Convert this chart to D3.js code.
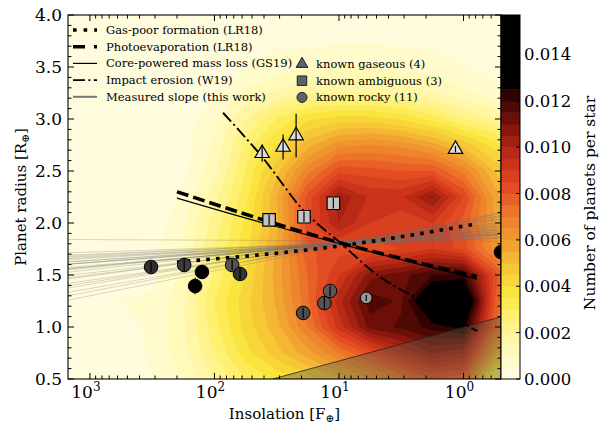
<!DOCTYPE html>
<html>
<head>
<meta charset="utf-8">
<title>Planet radius vs insolation</title>
<script src="https://d3js.org/d3.v7.min.js"></script>
<style>
  body { margin: 0; background: #fff; }
  text { font-family: "DejaVu Serif", serif; fill: #000; }
</style>
</head>
<body>
<div id="chart"></div>
<script>
// occurrence density grid, planets per star in units of 1e-3
// columns: log10 insolation, rows: planet radius (top to bottom)
var gridLogS = [3.25, 3.0, 2.75, 2.5, 2.25, 2.0, 1.75, 1.5, 1.25, 1.0, 0.75, 0.5, 0.25, 0.0, -0.25, -0.5];
var gridR = [4.0, 3.75, 3.5, 3.25, 3.0, 2.75, 2.5, 2.25, 2.0, 1.75, 1.5, 1.25, 1.0, 0.75, 0.5];
var density = [
  [0, 0, 0, 0, 0, 0, 0.1, 0.2, 0.3, 0.3, 0.3, 0.3, 0.2, 0.1, 0, 0],
  [0, 0, 0, 0, 0, 0.05, 0.2, 0.35, 0.4, 0.45, 0.45, 0.4, 0.35, 0.25, 0.1, 0],
  [0, 0, 0, 0, 0.05, 0.2, 0.45, 0.75, 0.9, 0.95, 0.95, 0.9, 0.75, 0.55, 0.35, 0.2],
  [0, 0, 0, 0, 0.15, 0.45, 1.1, 1.6, 1.9, 1.9, 1.9, 1.8, 1.5, 1.1, 0.7, 0.4],
  [0, 0, 0, 0, 0.25, 0.85, 2.0, 3.0, 3.9, 4.2, 4.2, 3.9, 3.3, 2.5, 2.0, 1.0],
  [0, 0, 0, 0, 0.3, 1.1, 2.7, 4.0, 5.3, 6.3, 6.5, 6.3, 5.7, 4.8, 3.8, 1.8],
  [0, 0, 0, 0.05, 0.35, 1.3, 3.0, 4.8, 6.8, 8.3, 8.2, 8.0, 8.0, 6.8, 5.0, 3.5],
  [0, 0, 0, 0.1, 0.6, 1.8, 3.3, 5.5, 8.2, 10.4, 9.4, 9.4, 10.6, 8.5, 5.8, 4.0],
  [0, 0, 0, 0.15, 0.9, 2.2, 3.6, 5.3, 8.3, 10.0, 9.0, 8.6, 9.0, 7.8, 6.0, 4.5],
  [0, 0, 0.05, 0.3, 1.0, 2.5, 3.8, 5.6, 7.9, 8.3, 8.2, 8.5, 9.0, 8.3, 6.3, 4.5],
  [0, 0, 0.05, 0.35, 1.1, 2.6, 4.0, 5.7, 7.5, 9.0, 10.8, 11.3, 12.0, 12.1, 8.3, 5.0],
  [0, 0.05, 0.51, 0.6, 1.4, 3.0, 4.3, 5.6, 7.4, 9.8, 11.8, 11.4, 14.0, 14.5, 8.0, 5.0],
  [0, 0, 0.2, 0.65, 1.4, 2.8, 4.2, 5.3, 7.0, 9.2, 11.2, 11.6, 12.2, 12.7, 7.6, 4.5],
  [0, 0, 0.1, 0.6, 1.3, 2.5, 3.8, 4.8, 5.8, 7.0, 8.2, 9.5, 10.5, 10.0, 5.5, 3.0],
  [0, 0, 0.05, 0.5, 1.0, 2.0, 3.0, 3.6, 4.2, 5.0, 6.0, 7.0, 8.0, 7.5, 2.5, 1.0]
];
var levels = d3.range(0, 12.51, 0.5);
var cbarMax = 15.7;
var cbarTicks = [0, 2, 4, 6, 8, 10, 12, 14];

// colour map
var cmapStops = [0, 1.0, 2.0, 3.0, 3.75, 4.75, 6.0, 7.25, 8.25, 9.25, 10.25, 11.25, 12.25, 13.0];
var cmapColors = ['#fffde6', '#fffac4', '#fff59c', '#fdee62', '#fae43e', '#f6c836', '#f09c30',
                  '#ec742a', '#e44c24', '#cc331a', '#a42111', '#6c0f08', '#300302', '#000000'];

// detection limit edge [insolation, radius]
var shadeEdge = [[34, 0.5], [0.49, 1.10]];

// posterior draws of the measured slope: radius at S=10 and dR/dlog10(S)
var slopeR10 = [1.83, 1.80, 1.80, 1.79, 1.81, 1.80, 1.80, 1.79, 1.80, 1.79, 1.80, 1.81, 1.79,
                1.80, 1.80, 1.81, 1.81, 1.79, 1.80, 1.82, 1.79, 1.80, 1.81, 1.79, 1.80, 1.78];
var slopeK = [0.005, -0.04, -0.05, -0.055, -0.06, -0.065, -0.07, -0.075, -0.08, -0.085, -0.09, -0.095,
              -0.10, -0.11, -0.11, -0.12, -0.13, -0.135, -0.15, -0.165, -0.17, -0.185, -0.20, -0.21, -0.23, -0.24];

// model predictions [insolation, radius]
var gasPoor = [[200, 1.625], [9.77, 1.78], [0.80, 1.99]];
var photoevap = [[200, 2.30], [9.77, 1.81], [0.78, 1.485]];
var corePowered = [[200, 2.24], [37.8, 1.99], [9.77, 1.80], [0.78, 1.46]];
var impactErosion = [[85.3, 3.06], [41.4, 2.635], [19.4, 2.125], [9.77, 1.81], [4.67, 1.48], [2.22, 1.26], [0.774, 0.96]];

// known planets
var gaseousS = [41.4, 28.1, 22.1, 1.16];
var gaseousR = [2.67, 2.73, 2.84, 2.71];
var gaseousErr = [0.08, 0.12, 0.21, 0.03];
var ambiguousS = [36.4, 19.1, 11.1];
var ambiguousR = [2.03, 2.06, 2.19];
var ambiguousErr = [0.05, 0.05, 0.05];
var rockyS = [323, 175, 126, 143, 72.1, 62.3, 19.4, 13.1, 11.8, 6.04, 0.5];
var rockyR = [1.577, 1.596, 1.529, 1.394, 1.596, 1.51, 1.135, 1.23, 1.346, 1.28, 1.72];
var rockyErr = [0.05, 0.06, 0.05, 0.08, 0.05, 0.06, 0.05, 0.06, 0.05, 0.03, 0.05];
var rockyTone = [0.19, 0.24, 0.0, 0.0, 0.33, 0.2, 0.3, 0.33, 0.35, 0.6, 0.0];

var legendLines = ['Gas-poor formation (LR18)', 'Photoevaporation (LR18)', 'Core-powered mass loss (GS19)',
                   'Impact erosion (W19)', 'Measured slope (this work)'];
var legendMarkers = ['known gaseous (4)', 'known ambiguous (3)', 'known rocky (11)'];

var margin = { top: 15, right: 99, bottom: 47, left: 68 };
var width = 433, height = 364;

var svg = d3.select('#chart').append('svg')
  .attr('width', width + margin.left + margin.right)
  .attr('height', height + margin.top + margin.bottom);

var g = svg.append('g').attr('transform', 'translate(' + margin.left + ',' + margin.top + ')');

var xScale = d3.scaleLog().domain([1500, 0.5]).range([0, width]);
var yScale = d3.scaleLinear().domain([0.5, 4.0]).range([height, 0]);
var cmap = d3.scaleLinear().domain(cmapStops).range(cmapColors).clamp(true);

function bandColor(i) {
  var hi = i < levels.length - 1 ? levels[i + 1] : cbarMax;
  return cmap((levels[i] + hi) / 2);
}

svg.append('defs').append('clipPath').attr('id', 'plotClip')
  .append('rect').attr('width', width).attr('height', height);

var plot = g.append('g').attr('clip-path', 'url(#plotClip)');

// filled contours
var nx = gridLogS.length, ny = gridR.length;
var flat = [].concat.apply([], density);
var dL = gridLogS[1] - gridLogS[0], dR = gridR[1] - gridR[0];
var gridPath = d3.geoPath(d3.geoTransform({
  point: function (gx, gy) {
    var L = gridLogS[0] + (gx - 0.5) * dL;
    var R = gridR[0] + (gy - 0.5) * dR;
    this.stream.point(xScale(Math.pow(10, L)), yScale(R));
  }
}));
var bands = d3.contours().size([nx, ny]).thresholds(levels)(flat);
plot.selectAll('path.band')
  .data(bands)
  .enter()
  .append('path')
  .attr('d', gridPath)
  .attr('fill', function (d, i) { return bandColor(i); })
  .attr('stroke', function (d, i) { return bandColor(i); })
  .attr('stroke-width', 0.4);

// shaded region below the detection edge
var shadePoly = shadeEdge.concat([[shadeEdge[1][0], 0.3], [shadeEdge[0][0], 0.3]]);
plot.append('path')
  .attr('d', d3.line().x(function (d) { return xScale(d[0]); }).y(function (d) { return yScale(d[1]); })(shadePoly) + 'Z')
  .attr('fill', 'rgb(90,90,70)')
  .attr('fill-opacity', 0.4);
plot.append('line')
  .attr('x1', xScale(shadeEdge[0][0])).attr('y1', yScale(shadeEdge[0][1]))
  .attr('x2', xScale(shadeEdge[1][0])).attr('y2', yScale(shadeEdge[1][1]))
  .attr('stroke', '#222').attr('stroke-width', 0.8);

// measured slope draws
var sLeft = 1600, sRight = 0.45;
plot.selectAll('line.slope')
  .data(slopeR10)
  .enter()
  .append('line')
  .attr('x1', xScale(sLeft))
  .attr('x2', xScale(sRight))
  .attr('y1', function (d, i) { return yScale(d + slopeK[i] * (Math.log10(sLeft) - 1)); })
  .attr('y2', function (d, i) { return yScale(d + slopeK[i] * (Math.log10(sRight) - 1)); })
  .attr('stroke', '#707070')
  .attr('stroke-opacity', 0.28)
  .attr('stroke-width', 1);

// model lines
var modelLine = d3.line()
  .x(function (d) { return xScale(d[0]); })
  .y(function (d) { return yScale(d[1]); })
  .curve(d3.curveMonotoneX);

var models = [
  { pts: gasPoor, w: 3.6, dash: '3.6,6.2' },
  { pts: photoevap, w: 3.6, dash: '12,5' },
  { pts: corePowered, w: 1.2, dash: null },
  { pts: impactErosion, w: 1.9, dash: '12,3.4,2,3.4' }
];
models.forEach(function (m) {
  plot.append('path')
    .attr('d', modelLine(m.pts))
    .attr('fill', 'none')
    .attr('stroke', '#000')
    .attr('stroke-width', m.w)
    .attr('stroke-dasharray', m.dash);
});

// planets
var tone = d3.scaleLinear().domain([0, 1]).range(['#000000', '#ffffff']);

function errBars(S, R, E) {
  plot.selectAll(null)
    .data(S)
    .enter()
    .append('line')
    .attr('x1', function (d) { return xScale(d); })
    .attr('x2', function (d) { return xScale(d); })
    .attr('y1', function (d, i) { return yScale(R[i] - E[i]); })
    .attr('y2', function (d, i) { return yScale(R[i] + E[i]); })
    .attr('stroke', '#000')
    .attr('stroke-width', 1.2);
}

plot.selectAll('circle.rocky')
  .data(rockyS)
  .enter()
  .append('circle')
  .attr('cx', function (d) { return xScale(d); })
  .attr('cy', function (d, i) { return yScale(rockyR[i]); })
  .attr('r', function (d, i) { return rockyTone[i] > 0.5 ? 5.8 : 6.8; })
  .attr('fill', function (d, i) { return tone(rockyTone[i]); })
  .attr('stroke', '#000')
  .attr('stroke-width', 1);
errBars(rockyS, rockyR, rockyErr);

plot.selectAll('path.amb')
  .data(ambiguousS)
  .enter()
  .append('path')
  .attr('d', d3.symbol().type(d3.symbolSquare).size(156))
  .attr('transform', function (d, i) { return 'translate(' + xScale(d) + ',' + yScale(ambiguousR[i]) + ')'; })
  .attr('fill', '#c4c4c4')
  .attr('stroke', '#000')
  .attr('stroke-width', 1.2);
errBars(ambiguousS, ambiguousR, ambiguousErr);

plot.selectAll('path.gas')
  .data(gaseousS)
  .enter()
  .append('path')
  .attr('d', d3.symbol().type(d3.symbolTriangle).size(90))
  .attr('transform', function (d, i) { return 'translate(' + xScale(d) + ',' + yScale(gaseousR[i]) + ')'; })
  .attr('fill', '#dcdcdc')
  .attr('stroke', '#000')
  .attr('stroke-width', 1.2);
errBars(gaseousS, gaseousR, gaseousErr);

// axes frame and ticks (inward on all sides)
var axes = g.append('g');
var majorX = [1000, 100, 10, 1];
var minorX = xScale.ticks().filter(function (v) { return majorX.indexOf(v) < 0; });
var majorY = d3.range(0.5, 4.01, 0.5);
var minorY = d3.range(0.5, 4.001, 0.1).filter(function (v) { return Math.abs(v * 2 - Math.round(v * 2)) > 0.01; });

function xTicks(vals, len) {
  vals.forEach(function (v) {
    var x = xScale(v);
    axes.append('line').attr('x1', x).attr('x2', x).attr('y1', height).attr('y2', height - len).attr('stroke', '#000');
    axes.append('line').attr('x1', x).attr('x2', x).attr('y1', 0).attr('y2', len).attr('stroke', '#000');
  });
}
function yTicks(vals, len) {
  vals.forEach(function (v) {
    var y = yScale(v);
    axes.append('line').attr('x1', 0).attr('x2', len).attr('y1', y).attr('y2', y).attr('stroke', '#000');
    axes.append('line').attr('x1', width).attr('x2', width - len).attr('y1', y).attr('y2', y).attr('stroke', '#000');
  });
}
xTicks(majorX, 6);
xTicks(minorX, 3.5);
yTicks(majorY, 6);
yTicks(minorY, 3.5);

axes.append('rect').attr('width', width).attr('height', height)
  .attr('fill', 'none').attr('stroke', '#000').attr('stroke-width', 1.1);

majorY.forEach(function (v) {
  axes.append('text')
    .attr('x', -6).attr('y', yScale(v) + 6)
    .attr('text-anchor', 'end')
    .style('font-size', '17px')
    .text(v.toFixed(1));
});
majorX.forEach(function (v) {
  var t = axes.append('text')
    .attr('x', xScale(v) - 4).attr('y', height + 19)
    .attr('text-anchor', 'middle')
    .style('font-size', '17px');
  t.append('tspan').text('10');
  t.append('tspan').attr('dy', -7).style('font-size', '12px').text(String(Math.round(Math.log10(v))));
});

var xl = axes.append('text')
  .attr('x', width / 2).attr('y', height + 40)
  .attr('text-anchor', 'middle')
  .style('font-size', '15px');
xl.append('tspan').text('Insolation [F');
xl.append('tspan').attr('dy', 3).style('font-size', '10.5px').text('⊕');
xl.append('tspan').attr('dy', -3).text(']');

var yl = axes.append('text')
  .attr('transform', 'translate(-42,' + (height / 2) + ') rotate(-90)')
  .attr('text-anchor', 'middle')
  .style('font-size', '15px');
yl.append('tspan').text('Planet radius [R');
yl.append('tspan').attr('dy', 3).style('font-size', '10.5px').text('⊕');
yl.append('tspan').attr('dy', -3).text(']');

// colour bar
var cb = g.append('g').attr('transform', 'translate(' + width + ',0)');
var cbW = 19;
var cbScale = d3.scaleLinear().domain([0, cbarMax]).range([height, 0]);
cb.selectAll('rect.cb')
  .data(levels)
  .enter()
  .append('rect')
  .attr('x', 0).attr('width', cbW)
  .attr('y', function (d, i) { return cbScale(i < levels.length - 1 ? levels[i + 1] : cbarMax); })
  .attr('height', function (d, i) { return cbScale(d) - cbScale(i < levels.length - 1 ? levels[i + 1] : cbarMax) + 0.5; })
  .attr('fill', function (d, i) { return bandColor(i); });
cb.append('rect').attr('width', cbW).attr('height', height)
  .attr('fill', 'none').attr('stroke', '#000').attr('stroke-width', 1);
cbarTicks.forEach(function (v) {
  cb.append('line').attr('x1', cbW).attr('x2', cbW - 4).attr('y1', cbScale(v)).attr('y2', cbScale(v))
    .attr('stroke', '#000');
  cb.append('text')
    .attr('x', cbW + 4).attr('y', cbScale(v) + 6)
    .style('font-size', '16.5px')
    .text((v / 1000).toFixed(3));
});
cb.append('text')
  .attr('transform', 'translate(' + (cbW + 75) + ',' + (height / 2 + 6) + ') rotate(-90)')
  .attr('text-anchor', 'middle')
  .style('font-size', '15.5px')
  .text('Number of planets per star');

// legends
var leg1 = g.append('g');
var legStyles = [
  { w: 3.6, dash: '3.6,7', c: '#000' },
  { w: 3.6, dash: '12,9', c: '#000' },
  { w: 1.2, dash: null, c: '#000' },
  { w: 1.9, dash: '12,3.4,2,3.4', c: '#000' },
  { w: 2, dash: null, c: '#777' }
];
legendLines.forEach(function (name, i) {
  var y = 15 + i * 16.7;
  leg1.append('line')
    .attr('x1', 5).attr('x2', 29).attr('y1', y).attr('y2', y)
    .attr('stroke', legStyles[i].c).attr('stroke-width', legStyles[i].w)
    .attr('stroke-dasharray', legStyles[i].dash);
  leg1.append('text')
    .attr('x', 38).attr('y', y + 4)
    .style('font-size', '11.5px')
    .text(name);
});

var leg2 = g.append('g');
var legSymbols = [d3.symbolTriangle, d3.symbolSquare, d3.symbolCircle];
var legSizes = [60, 90, 80];
legendMarkers.forEach(function (name, i) {
  var y = 49 + i * 16.7;
  leg2.append('path')
    .attr('d', d3.symbol().type(legSymbols[i]).size(legSizes[i]))
    .attr('transform', 'translate(234,' + y + ')')
    .attr('fill', '#5b6568')
    .attr('stroke', '#222')
    .attr('stroke-width', 1);
  leg2.append('text')
    .attr('x', 248).attr('y', y + 4)
    .style('font-size', '11.5px')
    .text(name);
});
</script>
</body>
</html>
